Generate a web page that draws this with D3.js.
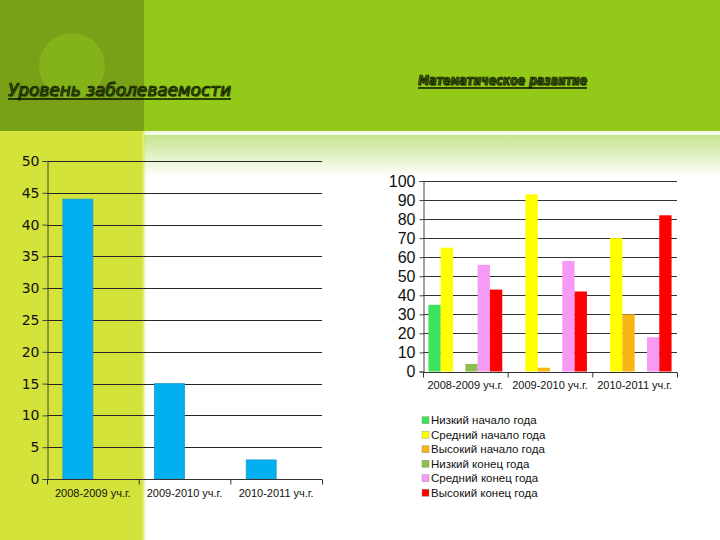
<!DOCTYPE html>
<html><head><meta charset="utf-8">
<script src="https://cdn.jsdelivr.net/npm/d3@7"></script>
<style>body{margin:0;background:#fff}svg{display:block}</style>
</head><body>
<script>
// ---- data ----
const illnessTitle = "Уровень заболеваемости";
const illnessCategories = ["2008-2009 уч.г.", "2009-2010 уч.г.", "2010-2011 уч.г."];
const illnessSeries = ["Ряд 1", "Ряд 2"];
const illnessValues = [44, 15, 3];
const illnessTicks = [0, 5, 10, 15, 20, 25, 30, 35, 40, 45, 50];

const mathTitle = "Математическое развитие";
const mathCategories = ["2008-2009 уч.г.", "2009-2010 уч.г.", "2010-2011 уч.г."];
const mathSeries = ["Низкий начало года", "Средний начало года", "Высокий начало года",
                    "Низкий конец года", "Средний конец года", "Высокий конец года"];
const mathLowStart  = [35, 0, 0];
const mathMidStart  = [65, 93, 70];
const mathHighStart = [0, 2, 30];
const mathLowEnd    = [4, 0, 0];
const mathMidEnd    = [56, 58, 18];
const mathHighEnd   = [43, 42, 82];
const mathTicks = [0, 10, 20, 30, 40, 50, 60, 70, 80, 90, 100];
const mathColors = ["#3de35c", "#ffff00", "#f7b614", "#8cbf4f", "#f79af5", "#ff0000"];

const W = 720, H = 540;
const svg = d3.select("body").append("svg").attr("width", W).attr("height", H);
const defs = svg.append("defs");

// ---- background ----
const grad = defs.append("linearGradient").attr("id", "fade").attr("x1", 0).attr("y1", 0).attr("x2", 0).attr("y2", 1);
grad.append("stop").attr("offset", "0%").attr("stop-color", "#c6e48e");
grad.append("stop").attr("offset", "100%").attr("stop-color", "#ffffff");
const edge = defs.append("linearGradient").attr("id", "edge").attr("x1", 0).attr("y1", 0).attr("x2", 1).attr("y2", 0);
edge.append("stop").attr("offset", "0%").attr("stop-color", "#d3e33a");
edge.append("stop").attr("offset", "100%").attr("stop-color", "#d3e33a").attr("stop-opacity", 0);

svg.append("rect").attr("width", W).attr("height", H).attr("fill", "#fff");
svg.append("rect").attr("x", 0).attr("y", 0).attr("width", W).attr("height", 131).attr("fill", "#93c918");
svg.append("rect").attr("x", 0).attr("y", 0).attr("width", 144).attr("height", 131).attr("fill", "#78a117");
svg.append("circle").attr("cx", 72).attr("cy", 66).attr("r", 33).attr("fill", "#84b21a");
svg.append("rect").attr("x", 144).attr("y", 135).attr("width", W - 144).attr("height", 42).attr("fill", "url(#fade)");
svg.append("rect").attr("x", 144).attr("y", 131).attr("width", W - 144).attr("height", 4).attr("fill", "#f4fae8");
svg.append("rect").attr("x", 0).attr("y", 131).attr("width", 142).attr("height", H - 131).attr("fill", "#d3e33a");
svg.append("rect").attr("x", 142).attr("y", 131).attr("width", 4).attr("height", H - 131).attr("fill", "url(#edge)");

// ---- titles ----
function title(text, x, y, size, weight, fit) {
  const g = svg.append("g");
  const mk = (dx, dy) => {
    const t = g.append("text").attr("x", x + dx).attr("y", y + dy).attr("font-family", "DejaVu Sans")
      .attr("font-size", size).attr("font-style", "italic").attr("font-weight", weight).text(text);
    if (fit) t.attr("textLength", fit).attr("lengthAdjust", "spacingAndGlyphs");
    return t;
  };
  mk(1, 1).attr("fill", "#2a3d05").attr("opacity", 0.6);
  const t = mk(0, 0).attr("fill", "#3c5c08").attr("stroke", "#0a1200").attr("stroke-width", 0.7);
  const len = fit || t.node().getComputedTextLength();
  g.append("line").attr("x1", x).attr("x2", x + len).attr("y1", y + 3).attr("y2", y + 3)
    .attr("stroke", "#0a1200").attr("stroke-width", 1.3);
}
title(illnessTitle, 8, 96, 17, "normal", 223);
title(mathTitle, 418, 85, 13.5, "bold", 169);

// ---- left chart ----
(function () {
  const L = 47, R = 322, T = 161, B = 479;
  const x = d3.scaleBand().domain(illnessCategories).range([L, R]);
  const xs = d3.scaleBand().domain(illnessSeries).range([0, x.bandwidth()]).paddingOuter(0.53);
  const y = d3.scaleLinear().domain([0, 50]).range([B, T]);
  const g = svg.append("g");

  g.selectAll(".grid").data(illnessTicks).join("line")
    .attr("x1", L).attr("x2", R).attr("y1", d => Math.round(y(d)) + 0.5).attr("y2", d => Math.round(y(d)) + 0.5)
    .attr("stroke", "#262626").attr("stroke-width", 1);

  g.selectAll(".bar").data(illnessCategories).join("rect")
    .attr("x", d => x(d) + xs(illnessSeries[0]))
    .attr("y", (d, i) => y(illnessValues[i]))
    .attr("width", xs.bandwidth())
    .attr("height", (d, i) => y(0) - y(illnessValues[i]))
    .attr("fill", "#00b0f0").attr("stroke", "#1c9ccc").attr("stroke-width", 0.8);

  const ya = g.append("g").attr("transform", `translate(${L + 0.5},0)`)
    .call(d3.axisLeft(y).tickValues(illnessTicks).tickSize(5).tickPadding(3));
  ya.select(".domain").attr("stroke", "#444");
  ya.selectAll(".tick line").attr("stroke", "#444");
  ya.selectAll("text").attr("font-family", "DejaVu Sans").attr("font-size", 14).attr("fill", "#111");

  const bx = d3.scaleLinear().domain([0, illnessCategories.length]).range([L, R]);
  const xa = g.append("g").attr("transform", `translate(0,${Math.round(B) + 0.5})`)
    .call(d3.axisBottom(bx).tickValues(d3.range(illnessCategories.length + 1)).tickSize(5).tickFormat(""));
  xa.select(".domain").attr("stroke", "#333").attr("d", `M${L},0H${R}`);
  xa.selectAll(".tick line").attr("stroke", "#333");

  g.selectAll(".xl").data(illnessCategories).join("text")
    .attr("x", d => x(d) + x.bandwidth() / 2).attr("y", B + 18)
    .attr("text-anchor", "middle").attr("font-family", "Liberation Sans").attr("font-size", 11)
    .attr("fill", "#111").text(d => d);
})();

// ---- right chart ----
(function () {
  const L = 423, R = 677, T = 181, B = 371.5;
  const values = [mathLowStart, mathMidStart, mathHighStart, mathLowEnd, mathMidEnd, mathHighEnd];
  const x = d3.scaleBand().domain(mathCategories).range([L, R]);
  const xs = d3.scaleBand().domain(mathSeries).range([0, x.bandwidth()]).paddingOuter(0.44);
  const y = d3.scaleLinear().domain([0, 100]).range([B, T]);
  const g = svg.append("g");

  g.selectAll(".grid").data(mathTicks).join("line")
    .attr("x1", L).attr("x2", R).attr("y1", d => Math.round(y(d)) + 0.5).attr("y2", d => Math.round(y(d)) + 0.5)
    .attr("stroke", "#333").attr("stroke-width", 1);

  const cells = [];
  mathCategories.forEach((c, ci) => mathSeries.forEach((s, si) => cells.push({ c, s, si, v: values[si][ci] })));
  g.selectAll(".bar").data(cells.filter(d => d.v > 0)).join("rect")
    .attr("x", d => x(d.c) + xs(d.s))
    .attr("y", d => y(d.v))
    .attr("width", xs.bandwidth())
    .attr("height", d => y(0) - y(d.v))
    .attr("fill", d => mathColors[d.si]);

  const ya = g.append("g").attr("transform", `translate(${L + 0.5},0)`)
    .call(d3.axisLeft(y).tickValues(mathTicks).tickSize(4).tickPadding(4));
  ya.select(".domain").attr("stroke", "#444");
  ya.selectAll(".tick line").attr("stroke", "#444");
  ya.selectAll("text").attr("font-family", "Liberation Sans").attr("font-size", 16).attr("fill", "#111");

  const bx = d3.scaleLinear().domain([0, mathCategories.length]).range([L, R]);
  const xa = g.append("g").attr("transform", `translate(0,${Math.round(B) + 0.5})`)
    .call(d3.axisBottom(bx).tickValues(d3.range(mathCategories.length + 1)).tickSize(5).tickFormat(""));
  xa.select(".domain").attr("stroke", "#333").attr("d", `M${L},0H${R}`);
  xa.selectAll(".tick line").attr("stroke", "#333");

  g.selectAll(".xl").data(mathCategories).join("text")
    .attr("x", d => x(d) + x.bandwidth() / 2).attr("y", B + 17)
    .attr("text-anchor", "middle").attr("font-family", "Liberation Sans").attr("font-size", 11)
    .attr("fill", "#111").text(d => d);

  // legend
  const lg = g.append("g");
  const ly = d3.scaleBand().domain(mathSeries).range([413, 500]);
  const item = lg.selectAll(".li").data(mathSeries).join("g")
    .attr("transform", d => `translate(422,${ly(d) + ly.bandwidth() / 2})`);
  item.append("rect").attr("x", 0).attr("y", -3.5).attr("width", 7).attr("height", 7)
    .attr("fill", (d, i) => mathColors[i]).attr("stroke", "#888").attr("stroke-width", 0.4);
  item.append("text").attr("x", 9).attr("y", 4).attr("font-family", "Liberation Sans")
    .attr("font-size", 11.5).attr("fill", "#111").text(d => d);
})();
</script>
</body></html>
